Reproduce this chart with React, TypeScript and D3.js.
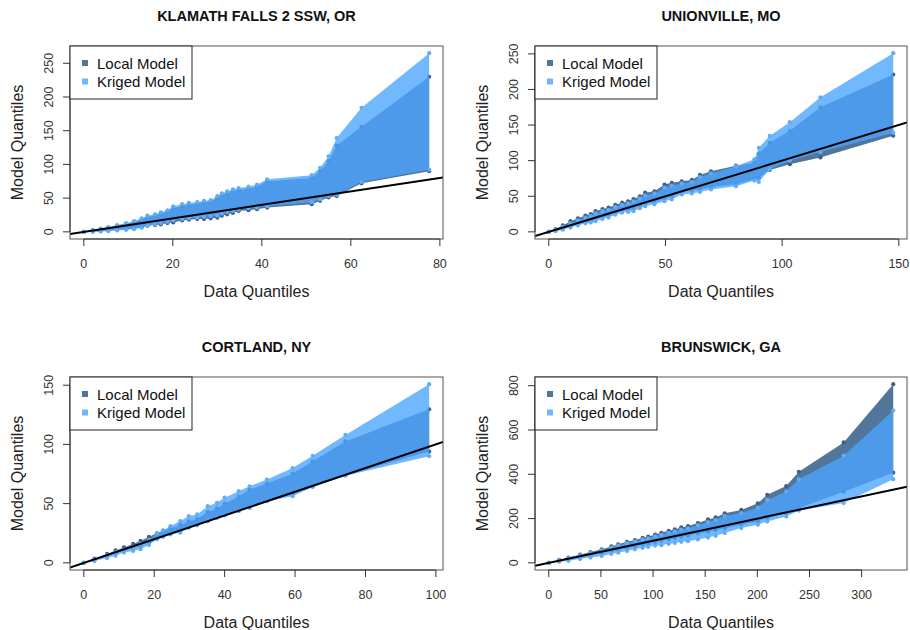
import React, { useRef, useEffect } from 'react';
import * as d3 from 'd3';

// ---- data ----
const titles = ['KLAMATH FALLS 2 SSW, OR', 'UNIONVILLE, MO', 'CORTLAND, NY', 'BRUNSWICK, GA'];
const seriesNames = ['Local Model', 'Kriged Model'];

const klamathX = [0, 2, 3.8, 5.5, 7.5, 9.5, 11.3, 13, 14.3, 16, 17.3, 18.8, 20.1, 22.1, 23.6, 25.5, 27, 28.5, 30, 31, 32.2, 33.5, 34.8, 37, 38.9, 41.2, 51.2, 53.1, 55, 56.8, 62.4, 77.6];
const klamathKrigHi = [0, 3, 5, 7, 10, 13, 16, 20, 24, 26, 29, 32, 38, 41, 43, 44, 46, 47, 53, 57, 60, 63, 65, 67, 70, 78, 84, 95, 112, 139, 184, 265];
const klamathLocalHi = [0, 2, 4, 6, 9, 12, 15, 18, 22, 24, 27, 30, 35, 38, 40, 42, 44, 45, 50, 54, 57, 60, 62, 64, 67, 75, 80, 90, 105, 128, 156, 230];
const klamathLocalLo = [0, 0.5, 1, 2, 3, 4, 5, 7, 9, 10, 11, 13, 14, 17, 18, 19, 19, 20, 21, 24, 26, 28, 31, 32, 33.5, 36, 41, 46, 51, 53, 72, 90];
const klamathKrigLo = [0, 0, 0.5, 1, 2, 3, 4, 6, 9, 11, 13, 15, 17, 19, 20, 21, 22, 23, 24, 27, 29, 31, 33, 35, 36, 38, 44, 48, 53, 55, 74, 92];

const unionX = [0, 2.9, 6, 9.3, 12.5, 15.7, 18, 20, 23, 25.6, 28.5, 31.4, 34, 36.3, 39, 41.3, 45.3, 49.6, 52.7, 57, 61.3, 64.8, 69.5, 80.2, 88.1, 90, 94.7, 103.3, 116.4, 147.6];
const unionKrigHi = [0, 3, 7, 12, 16, 20, 22, 26, 29, 31, 35, 38, 40, 43, 47, 51, 54, 62, 65, 68, 70, 77, 82, 92, 102, 118, 135, 154, 189, 251];
const unionLocalHi = [0, 4, 9, 15, 19, 23, 25, 29, 32, 34, 38, 41, 43, 46, 50, 55, 57, 66.5, 69, 71, 73, 80, 85, 93, 97, 110, 125, 142, 175, 221];
const unionKrigLo = [0, 1, 3, 6, 9, 12, 13, 15, 18, 20, 24, 27, 28, 29, 33, 36, 38.6, 43, 45.6, 52.5, 54, 56, 59.5, 64, 72, 70, 88, 100, 112, 139];
const unionLocalLo = [0, 2, 4, 8, 11, 14, 15, 18, 21, 23, 27, 30, 32, 33, 37, 40, 42, 47, 50, 56, 58, 60, 63, 67, 74, 76, 87, 95, 104.5, 135];

const cortlandX = [0, 3, 6.6, 9, 11.4, 14, 16.1, 18.5, 20.8, 22.5, 24.6, 27.4, 29.8, 32.2, 35.2, 37.8, 40, 44, 47.1, 52, 59.3, 65, 74.3, 98.1];
const cortlandKrigHi = [0, 3, 6.5, 9, 11, 13.5, 16, 19.5, 25, 27.5, 31, 35.3, 39.5, 40.9, 47.9, 50.7, 55, 60.5, 64.7, 70.3, 80, 90.4, 108, 150.9];
const cortlandLocalHi = [0, 3.5, 7.5, 10.5, 13, 16, 18.5, 22, 25, 27, 29, 32, 35, 37, 43, 46, 50, 56, 62, 67, 75.3, 85.7, 102.5, 129.6];
const cortlandKrigLo = [0, 1.5, 4, 6, 8.7, 10, 11.5, 15, 20, 22, 24, 25.5, 29.7, 31.7, 35.3, 38, 40, 43.7, 46.5, 52, 56.3, 64, 73.6, 90];
const cortlandLocalLo = [0, 2.5, 5.5, 8, 10.5, 12.5, 14.5, 17.5, 20.5, 22.5, 24.5, 27, 30, 32.5, 35.5, 38.5, 40.5, 44, 47, 52.5, 58, 64.7, 74, 94];

const brunsX = [0, 10, 18.8, 30, 40, 50.7, 60, 66.6, 75, 82.6, 90, 95.3, 102, 108, 115, 120.8, 127, 133.5, 143, 152.7, 160, 168.7, 184.6, 200.5, 209.5, 227.7, 239.8, 282.8, 330.3];
const brunsLocalHi = [0, 13, 24, 37, 49, 61, 74, 84, 95, 103, 113, 118, 128, 136, 145, 151, 160, 166, 180, 196, 205, 224, 239, 269, 307, 347, 411, 544, 807];
const brunsKrigHi = [0, 12, 22, 34, 45, 57, 69, 79, 89, 97, 106, 111, 120, 127, 136, 142, 150, 156, 170, 184, 193, 212, 225, 250, 284, 322, 377, 484, 688];
const brunsLocalLo = [0, 8, 15, 25, 33, 43, 52, 58, 67, 74, 82, 86, 94, 100, 107, 112, 118, 123, 132, 141, 148, 156, 172, 188, 202, 224, 248, 321, 407];
const brunsKrigLo = [0, 5, 9, 17, 24, 31, 40, 46, 53, 61, 67, 72, 78, 80, 86, 90, 95, 98, 106, 114, 122, 135, 157, 172, 187, 209, 236, 270, 378];

const xTicks = [[0, 20, 40, 60, 80], [0, 50, 100, 150], [0, 20, 40, 60, 80, 100], [0, 50, 100, 150, 200, 250, 300]];
const yTicks = [[0, 50, 100, 150, 200, 250], [0, 50, 100, 150, 200, 250], [0, 50, 100, 150], [0, 200, 400, 600, 800]];

const panels = [
  { x: klamathX, localLo: klamathLocalLo, localHi: klamathLocalHi, krigLo: klamathKrigLo, krigHi: klamathKrigHi },
  { x: unionX, localLo: unionLocalLo, localHi: unionLocalHi, krigLo: unionKrigLo, krigHi: unionKrigHi },
  { x: cortlandX, localLo: cortlandLocalLo, localHi: cortlandLocalHi, krigLo: cortlandKrigLo, krigHi: cortlandKrigHi },
  { x: brunsX, localLo: brunsLocalLo, localHi: brunsLocalHi, krigLo: brunsKrigLo, krigHi: brunsKrigHi },
];

const FONT = '"Liberation Sans", Arial, Helvetica, sans-serif';
const LOCAL_FILL = '#52759a';
const LOCAL_PT = '#3f5f86';
const KRIG_FILL = 'rgb(74,164,255)';
const KRIG_PT = '#62acf5';

// R-style limits: data range stretched 4% each side
const rLim = (vals) => {
  const [lo, hi] = d3.extent(vals);
  const pad = (hi - lo) * 0.04;
  return [lo - pad, hi + pad];
};

const App = () => {
  const ref = useRef(null);

  useEffect(() => {
    const svg = d3.select(ref.current);
    svg.selectAll('*').remove();

    const boxes = [
      { l: 70, r: 443, t: 46, b: 239 },
      { l: 535, r: 907, t: 46, b: 239 },
      { l: 70, r: 443, t: 377, b: 570 },
      { l: 535, r: 907, t: 377, b: 570 },
    ];

    panels.forEach((p, i) => {
      const box = boxes[i];
      const g = svg.append('g');
      const allY = [...p.localLo, ...p.localHi, ...p.krigLo, ...p.krigHi];
      const x = d3.scaleLinear().domain(rLim(p.x)).range([box.l, box.r]);
      const y = d3.scaleLinear().domain(rLim(allY)).range([box.b, box.t]);

      const clipId = `clip${i}`;
      g.append('clipPath').attr('id', clipId)
        .append('rect')
        .attr('x', box.l).attr('y', box.t)
        .attr('width', box.r - box.l).attr('height', box.b - box.t);

      const plot = g.append('g').attr('clip-path', `url(#${clipId})`);
      const idx = d3.range(p.x.length);

      const band = (lo, hi) => d3.area()
        .x(j => x(p.x[j]))
        .y0(j => y(lo[j]))
        .y1(j => y(hi[j]))(idx);

      const dots = (arr, color) => {
        plot.append('g').selectAll('circle')
          .data(idx)
          .enter()
          .append('circle')
          .attr('cx', j => x(p.x[j]))
          .attr('cy', j => y(arr[j]))
          .attr('r', 2.1)
          .attr('fill', color);
      };

      // local band + its points first, kriged band laid over them
      plot.append('path').attr('d', band(p.localLo, p.localHi)).attr('fill', LOCAL_FILL);
      dots(p.localLo, LOCAL_PT);
      dots(p.localHi, LOCAL_PT);
      plot.append('path').attr('d', band(p.krigLo, p.krigHi)).attr('fill', KRIG_FILL).attr('fill-opacity', 0.78);
      dots(p.krigLo, KRIG_PT);
      dots(p.krigHi, KRIG_PT);

      // 1:1 line
      const [x0, x1] = x.domain();
      plot.append('line')
        .attr('x1', x(x0)).attr('y1', y(x0))
        .attr('x2', x(x1)).attr('y2', y(x1))
        .attr('stroke', '#000').attr('stroke-width', 2);

      // frame
      g.append('rect')
        .attr('x', box.l).attr('y', box.t)
        .attr('width', box.r - box.l).attr('height', box.b - box.t)
        .attr('fill', 'none').attr('stroke', '#555').attr('stroke-width', 1);

      // x axis
      const xt = xTicks[i];
      g.append('line')
        .attr('x1', x(xt[0])).attr('x2', x(xt[xt.length - 1]))
        .attr('y1', box.b).attr('y2', box.b)
        .attr('stroke', '#333');
      xt.forEach(v => {
        g.append('line')
          .attr('x1', x(v)).attr('x2', x(v))
          .attr('y1', box.b).attr('y2', box.b + 7)
          .attr('stroke', '#333');
        g.append('text')
          .attr('x', x(v)).attr('y', box.b + 28.5)
          .attr('text-anchor', 'middle')
          .attr('font-family', FONT).attr('font-size', 12.5)
          .attr('fill', '#333')
          .text(v);
      });

      // y axis
      const yt = yTicks[i];
      g.append('line')
        .attr('x1', box.l).attr('x2', box.l)
        .attr('y1', y(yt[0])).attr('y2', y(yt[yt.length - 1]))
        .attr('stroke', '#333');
      yt.forEach(v => {
        g.append('line')
          .attr('x1', box.l - 7).attr('x2', box.l)
          .attr('y1', y(v)).attr('y2', y(v))
          .attr('stroke', '#333');
        g.append('text')
          .attr('transform', `translate(${box.l - 17.5},${y(v)}) rotate(-90)`)
          .attr('text-anchor', 'middle')
          .attr('font-family', FONT).attr('font-size', 12.5)
          .attr('fill', '#333')
          .text(v);
      });

      // titles
      g.append('text')
        .attr('x', (box.l + box.r) / 2).attr('y', box.t - 25)
        .attr('text-anchor', 'middle')
        .attr('font-family', FONT).attr('font-size', 14.5).attr('font-weight', 'bold')
        .attr('fill', '#111')
        .text(titles[i]);
      g.append('text')
        .attr('x', (box.l + box.r) / 2).attr('y', box.b + 58)
        .attr('text-anchor', 'middle')
        .attr('font-family', FONT).attr('font-size', 16)
        .attr('fill', '#222')
        .text('Data Quantiles');
      g.append('text')
        .attr('transform', `translate(${box.l - 47.5},${(box.t + box.b) / 2}) rotate(-90)`)
        .attr('text-anchor', 'middle')
        .attr('font-family', FONT).attr('font-size', 16)
        .attr('fill', '#222')
        .text('Model Quantiles');

      // legend
      const lg = g.append('g').attr('transform', `translate(${box.l},${box.t})`);
      lg.append('rect')
        .attr('x', 0).attr('y', 0).attr('width', 122).attr('height', 53)
        .attr('fill', '#fff').attr('stroke', '#222');
      seriesNames.forEach((name, k) => {
        lg.append('rect')
          .attr('x', 12).attr('y', 14 + k * 18.5)
          .attr('width', 6).attr('height', 6)
          .attr('fill', k === 0 ? LOCAL_FILL : '#72b6fa');
        lg.append('text')
          .attr('x', 27).attr('y', 22.5 + k * 18.5)
          .attr('font-family', FONT).attr('font-size', 15)
          .attr('fill', '#111')
          .text(name);
      });
    });
  }, []);

  return (
    <svg ref={ref} width={910} height={630}
      style={{ position: 'absolute', left: 0, top: 0, background: '#fff' }} />
  );
};

export default App;
